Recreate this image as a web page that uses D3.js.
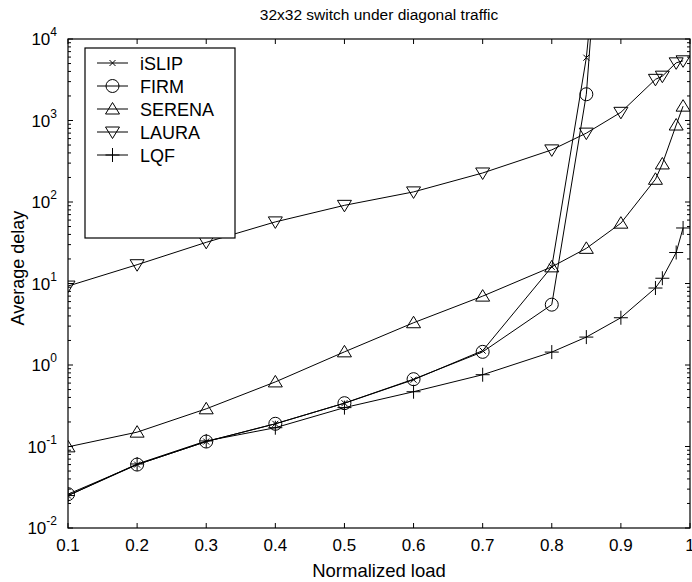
<!DOCTYPE html>
<html>
<head>
<meta charset="utf-8">
<script src="https://cdn.jsdelivr.net/npm/d3@7"></script>
<style>
  body { margin: 0; background: #fff; }
  svg { font-family: "Liberation Sans", Arial, sans-serif; }
</style>
</head>
<body>
<div id="chart"></div>
<script>
// loads used for the stable schedulers
const loads = [0.1, 0.2, 0.3, 0.4, 0.5, 0.6, 0.7, 0.8, 0.85, 0.9, 0.95, 0.96, 0.98, 0.99];
// iSLIP / FIRM blow up after 0.85
const loadsSat = [0.1, 0.2, 0.3, 0.4, 0.5, 0.6, 0.7, 0.8, 0.85, 0.9];

const iSLIP = [0.025, 0.06, 0.115, 0.19, 0.34, 0.66, 1.5, 16, 5900, 1e8];
const FIRM = [0.026, 0.06, 0.115, 0.19, 0.34, 0.67, 1.45, 5.5, 2100, 1e9];
const SERENA = [0.099, 0.15, 0.29, 0.62, 1.45, 3.3, 7.0, 16, 27, 55, 190, 293, 880, 1500];
const LAURA = [9.3, 17, 32, 57, 91, 133, 227, 436, 700, 1260, 3200, 3500, 5100, 5400];
const LQF = [0.025, 0.061, 0.117, 0.17, 0.30, 0.47, 0.76, 1.44, 2.2, 3.8, 8.8, 11.6, 24, 48];

const xTicks = [0.1, 0.2, 0.3, 0.4, 0.5, 0.6, 0.7, 0.8, 0.9, 1];
const yExponents = [-2, -1, 0, 1, 2, 3, 4];

const series = [
  {name: "iSLIP", x: loadsSat, y: iSLIP, marker: "x"},
  {name: "FIRM", x: loadsSat, y: FIRM, marker: "o"},
  {name: "SERENA", x: loads, y: SERENA, marker: "^"},
  {name: "LAURA", x: loads, y: LAURA, marker: "v"},
  {name: "LQF", x: loads, y: LQF, marker: "+"}
];

const W = 692, H = 582;
const margin = {top: 39, right: 2, bottom: 54, left: 68};
const width = W - margin.left - margin.right;
const height = H - margin.top - margin.bottom;

const svg = d3.select("#chart").append("svg")
  .attr("width", W)
  .attr("height", H);

const g = svg.append("g")
  .attr("transform", `translate(${margin.left},${margin.top})`);

const x = d3.scaleLinear().domain([0.1, 1]).range([0, width]);
const y = d3.scaleLog().domain([1e-2, 1e4]).range([height, 0]);

g.append("clipPath").attr("id", "clip")
  .append("rect").attr("width", width).attr("height", height);

// ticks, inward on all four sides
const tickLen = 5, minorLen = 3;
xTicks.forEach(t => {
  g.append("line").attr("x1", x(t)).attr("x2", x(t)).attr("y1", height).attr("y2", height - tickLen).attr("stroke", "#000");
  g.append("line").attr("x1", x(t)).attr("x2", x(t)).attr("y1", 0).attr("y2", tickLen).attr("stroke", "#000");
  g.append("text")
    .attr("x", x(t)).attr("y", height + 23)
    .attr("text-anchor", "middle")
    .attr("font-size", 17)
    .text(t === 1 ? "1" : t.toFixed(1));
});

yExponents.forEach(e => {
  const v = Math.pow(10, e);
  g.append("line").attr("x1", 0).attr("x2", tickLen).attr("y1", y(v)).attr("y2", y(v)).attr("stroke", "#000");
  g.append("line").attr("x1", width).attr("x2", width - tickLen).attr("y1", y(v)).attr("y2", y(v)).attr("stroke", "#000");
  if (e < 4) {
    for (let k = 2; k <= 9; k++) {
      const mv = k * v;
      g.append("line").attr("x1", 0).attr("x2", minorLen).attr("y1", y(mv)).attr("y2", y(mv)).attr("stroke", "#000");
      g.append("line").attr("x1", width).attr("x2", width - minorLen).attr("y1", y(mv)).attr("y2", y(mv)).attr("stroke", "#000");
    }
  }
  const lab = g.append("text")
    .attr("x", -11).attr("y", y(v) + 6)
    .attr("text-anchor", "end")
    .attr("font-size", 17);
  lab.append("tspan").text("10");
  lab.append("tspan").attr("dy", -9).attr("font-size", 12).text(e);
});

// frame
g.append("rect")
  .attr("width", width).attr("height", height)
  .attr("fill", "none").attr("stroke", "#000").attr("stroke-width", 1.2);

const line = d3.line().x(d => x(d[0])).y(d => y(d[1]));

function drawMarker(sel, type, cx, cy) {
  const m = sel.append("g").attr("transform", `translate(${cx},${cy})`)
    .attr("fill", "none").attr("stroke", "#000").attr("stroke-width", 1);
  if (type === "x") {
    m.append("path").attr("d", "M-3,-3L3,3M-3,3L3,-3");
  } else if (type === "o") {
    m.append("circle").attr("r", 6.5);
  } else if (type === "^") {
    m.append("path").attr("d", "M0,-6.5L7,5L-7,5Z");
  } else if (type === "v") {
    m.append("path").attr("d", "M0,6.5L7,-5L-7,-5Z");
  } else if (type === "+") {
    m.append("path").attr("d", "M-7,0L7,0M0,-7L0,7");
  }
}

const plot = g.append("g").attr("clip-path", "url(#clip)");
series.forEach(s => {
  const pts = s.x.map((xv, i) => [xv, s.y[i]]);
  plot.append("path")
    .attr("d", line(pts))
    .attr("fill", "none")
    .attr("stroke", "#000")
    .attr("stroke-width", 1);
  pts.forEach(p => {
    if (p[1] <= 1e4) drawMarker(plot, s.marker, x(p[0]), y(p[1]));
  });
});

// legend
const leg = svg.append("g").attr("transform", "translate(85,48)");
leg.append("rect").attr("width", 150).attr("height", 190)
  .attr("fill", "#fff").attr("stroke", "#000").attr("stroke-width", 1.2);
series.forEach((s, i) => {
  const ly = 15 + i * 23;
  leg.append("line").attr("x1", 12).attr("x2", 43).attr("y1", ly).attr("y2", ly).attr("stroke", "#000");
  drawMarker(leg, s.marker, 27.5, ly);
  leg.append("text").attr("x", 55).attr("y", ly + 6.5)
    .attr("font-size", 18).text(s.name);
});

// title and axis labels
svg.append("text")
  .attr("x", margin.left + width / 2).attr("y", 20)
  .attr("text-anchor", "middle").attr("font-size", 15.5)
  .text("32x32 switch under diagonal traffic");

svg.append("text")
  .attr("x", margin.left + width / 2).attr("y", 577)
  .attr("text-anchor", "middle").attr("font-size", 18.5)
  .text("Normalized load");

svg.append("text")
  .attr("transform", `translate(24,268) rotate(-90)`)
  .attr("text-anchor", "middle").attr("font-size", 18)
  .text("Average delay");
</script>
</body>
</html>
